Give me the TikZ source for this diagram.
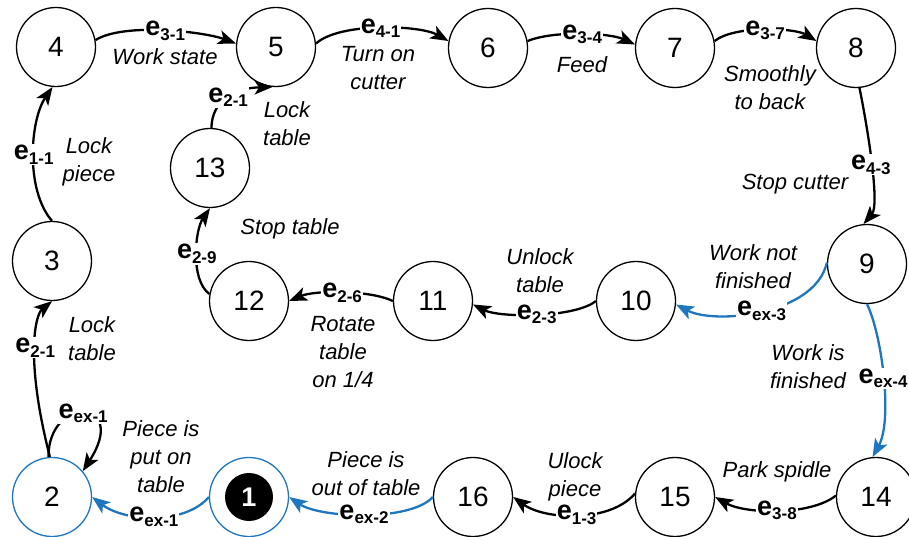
\documentclass[tikz,border=0pt]{standalone}
\usepackage{fontspec}
\setmainfont{Liberation Sans}
\usetikzlibrary{arrows.meta}
\definecolor{flowblue}{RGB}{31,117,190}
% event label: bold e with a bold index set lower
\newcommand\evt[1]{{\fontsize{27}{27}\selectfont\bfseries e}\raisebox{-4.5pt}{\fontsize{17}{17}\selectfont\bfseries #1}}
\begin{document}
\begin{tikzpicture}[x=1pt,y=-1pt,
  state/.style={circle, draw, fill=white, line width=1.3pt, minimum size=79pt, inner sep=0pt,
    font=\fontsize{28}{28}\selectfont},
  bstate/.style={state, draw=flowblue},
  core/.style={circle, fill=black, minimum size=48pt, inner sep=0pt, text=white,
    font=\fontsize{27}{27}\selectfont\bfseries},
  trans/.style={line width=2.3pt, -{Stealth[length=18pt,width=14pt,inset=4.5pt]}},
  btrans/.style={trans, draw=flowblue},
  elab/.style={fill=white, inner sep=1pt, text=black},
  note/.style={align=center, anchor=base, inner sep=0pt, font=\fontsize{22}{28}\selectfont\itshape},
]
\useasboundingbox (0,0) rectangle (909,537);

% states
\node[state]  (n4)  at (56,47)   {4};
\node[state]  (n5)  at (276,47)  {5};
\node[state]  (n6)  at (488,48)  {6};
\node[state]  (n7)  at (675,48)  {7};
\node[state]  (n8)  at (856,48)  {8};
\node[state]  (n13) at (210,168) {13};
\node[state]  (n3)  at (52,261)  {3};
\node[state]  (n9)  at (867,264) {9};
\node[state]  (n12) at (249,301) {12};
\node[state]  (n11) at (433,301) {11};
\node[state]  (n10) at (636,301) {10};
\node[bstate] (n2)  at (52,497)  {2};
\node[bstate] (n1)  at (249,497) {};
\node[core]   (n1c) at (n1)      {1};
\node[state]  (n16) at (473,497) {16};
\node[state]  (n15) at (675,497) {15};
\node[state]  (n14) at (876,497) {14};

% transitions along the top
\draw[trans] (n4.10) .. controls (125,22) and (205,32) .. (n5.175)
  node[elab,pos=.5] (l31) {\evt{3-1}};
\draw[trans] (n5.5) .. controls (340,22) and (420,25) .. (n6.170)
  node[elab,pos=.5] (l41) {\evt{4-1}};
\draw[trans] (n6.10) .. controls (555,30) and (610,33) .. (n7.175)
  node[elab,pos=.5] (l34) {\evt{3-4}};
\draw[trans] (n7.10) .. controls (735,25) and (795,28) .. (n8.170)
  node[elab,pos=.5] (l37) {\evt{3-7}};
\draw[trans] (n8.-85) .. controls (868,130) and (880,205) .. (n9.95)
  node[elab,pos=.5] (l43) {\evt{4-3}};

% branch at state 9
\draw[btrans] (n9.178) .. controls (815,315) and (715,325) .. (n10.-5)
  node[elab,pos=.5] (lx3) {\evt{ex-3}};
\draw[btrans] (n9.-90) .. controls (882,335) and (893,420) .. (n14.95)
  node[elab,pos=.5] (lx4) {\evt{ex-4}};

% middle row, right to left
\draw[trans] (n10.180) .. controls (575,318) and (500,318) .. (n11.-5)
  node[elab,pos=.5] (l23) {\evt{2-3}};
\draw[trans] (n11.180) .. controls (370,290) and (315,290) .. (n12.0)
  node[elab,pos=.5] (l26) {\evt{2-6}};
\draw[trans] (n12.170) .. controls (190,280) and (195,230) .. (n13.-90)
  node[elab,pos=.5] (l29) {\evt{2-9}};
\draw[trans] (n13.88) .. controls (212,100) and (235,88) .. (n5.-95)
  node[elab,pos=.5] (l21a) {\evt{2-1}};

% left column
\draw[trans] (n2.93) .. controls (25,360) and (35,315) .. (n3.-90)
  node[elab,pos=.5] (l21b) {\evt{2-1}};
\draw[trans] (n3.90) .. controls (25,190) and (30,120) .. (n4.-95)
  node[elab,pos=.5] (l11) {\evt{1-1}};
\draw[trans] (n2.95) .. controls (48,395) and (130,398) .. (n2.40)
  node[elab,pos=.5] (lx1a) {\evt{ex-1}};

% bottom row, right to left
\draw[trans] (n14.178) .. controls (810,516) and (745,514) .. (n15.0)
  node[elab,pos=.5] (l38) {\evt{3-8}};
\draw[trans] (n15.175) .. controls (610,523) and (545,520) .. (n16.0)
  node[elab,pos=.5] (l13) {\evt{1-3}};
\draw[btrans] (n16.180) .. controls (410,522) and (320,518) .. (n1.0)
  node[elab,pos=.5] (lx2) {\evt{ex-2}};
\draw[btrans] (n1.180) .. controls (185,525) and (125,522) .. (n2.0)
  node[elab,pos=.5] (lx1b) {\evt{ex-1}};

% operation notes (anchored at the baseline of the last line)
\node[note] (t31)  at (165,65)  {Work state};
\node[note] (t41)  at (378,90)  {Turn on\\cutter};
\node[note] (t34)  at (582,73)  {Feed};
\node[note] (t37)  at (770,110) {Smoothly\\to back};
\node[note] (t43)  at (795,190) {Stop cutter};
\node[note] (tx3)  at (753,288) {Work not\\finished};
\node[note] (tx4)  at (808,388) {Work is\\finished};
\node[note] (t23)  at (540,292) {Unlock\\table};
\node[note] (t26)  at (343,387) {Rotate\\table\\on 1/4};
\node[note] (t29)  at (290,235) {Stop table};
\node[note] (t21a) at (287,146) {Lock\\table};
\node[note] (t11)  at (89,182)  {Lock\\piece};
\node[note] (t21b) at (92,360)  {Lock\\table};
\node[note] (tx1a) at (161,492) {Piece is\\put on\\table};
\node[note] (tx2)  at (366,495) {Piece is\\out of table};
\node[note] (t13)  at (575,496) {Ulock\\piece};
\node[note] (t38)  at (777,477) {Park spidle};
\end{tikzpicture}
\end{document}
